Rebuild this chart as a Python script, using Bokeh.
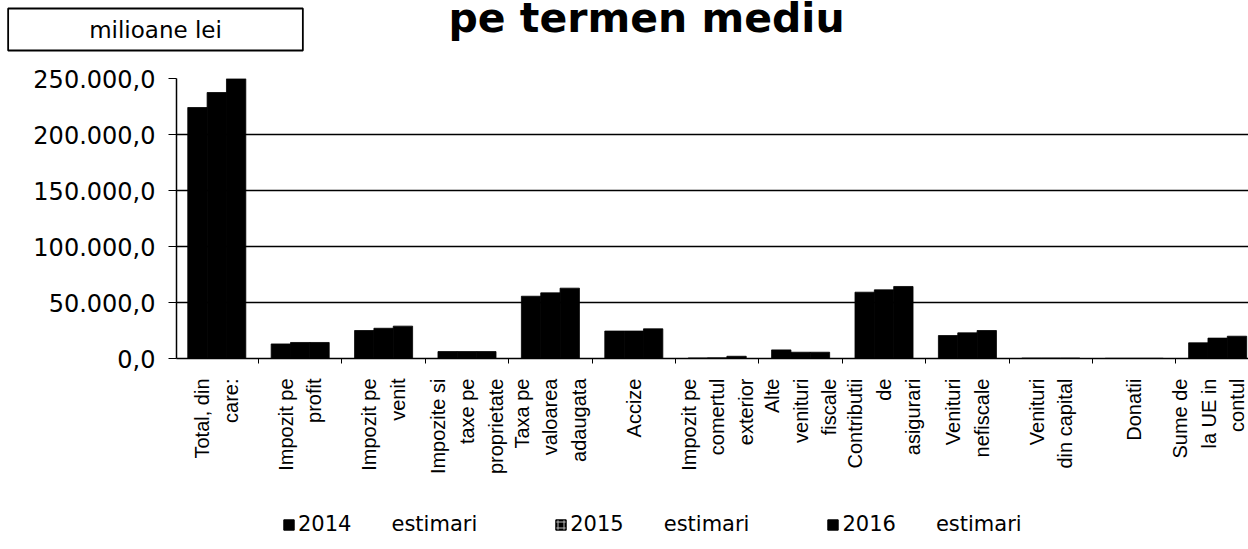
import math
from bokeh.plotting import figure
from bokeh.layouts import column
from bokeh.models import Range1d, FixedTicker, Label, Legend, LegendItem, ColumnDataSource
from bokeh.transform import dodge
from bokeh.embed import file_html
from bokeh.resources import INLINE

# ---------------- data ----------------
categories = [
    "Total, din\ncare:",
    "Impozit pe\nprofit",
    "Impozit pe\nvenit",
    "Impozite si\ntaxe pe\nproprietate",
    "Taxa pe\nvaloarea\nadaugata",
    "Accize",
    "Impozit pe\ncomertul\nexterior",
    "Alte\nvenituri\nfiscale",
    "Contributii\nde\nasigurari",
    "Venituri\nnefiscale",
    "Venituri\ndin capital",
    "Donatii",
    "Sume de\nla UE in\ncontul",
]
years = ["2014", "2015", "2016"]
v2014 = [224100, 13000, 25000, 6200, 55600, 24500, 500, 7700, 59200, 20500, 400, 200, 14000]
v2015 = [237500, 14300, 27000, 6200, 58600, 24500, 600, 5600, 61300, 22900, 400, 200, 18200]
v2016 = [249800, 14300, 28900, 6200, 62800, 26500, 2000, 5600, 64300, 25000, 400, 200, 19900]
y_ticks = [0, 50000, 100000, 150000, 200000, 250000]
legend_suffix = "estimari"
unit_label = "milioane lei"
title_text = "pe termen mediu"

W = 1248


def ro_fmt(v):
    s = f"{v:,.1f}"
    return s.replace(",", "X").replace(".", ",").replace("X", ".")


# ---------------- header strip (title + unit box) ----------------
TOP_H = 62
p_top = figure(width=W, height=TOP_H, output_backend="svg", toolbar_location=None,
               x_axis_type=None, y_axis_type=None, min_border=0,
               x_range=Range1d(0, 1), y_range=Range1d(0, 1))
p_top.frame_align = False
p_top.outline_line_color = None
p_top.grid.visible = False
p_top.add_layout(Label(x=155, y=TOP_H - 29, x_units="screen", y_units="screen",
                       text=unit_label, text_align="center", text_baseline="middle",
                       text_font="DejaVu Sans", text_font_size="23px", text_color="black",
                       border_line_color="black", border_line_width=1.8,
                       background_fill_color="white",
                       padding=dict(left=81, right=81, top=8, bottom=8)))
p_top.add_layout(Label(x=646, y=TOP_H - 17, x_units="screen", y_units="screen",
                       text=title_text, text_align="center", text_baseline="middle",
                       text_font="DejaVu Sans", text_font_style="bold",
                       text_font_size="41px", text_color="black"))

# ---------------- main chart ----------------
MAIN_H = 428
xs = list(range(len(categories)))
src = ColumnDataSource(dict(x=xs, v2014=v2014, v2015=v2015, v2016=v2016))

p = figure(width=W, height=MAIN_H, output_backend="svg", toolbar_location=None,
           x_range=Range1d(-0.483, 12.37), y_range=Range1d(0, 250000),
           min_border_left=176, min_border_top=16, min_border_right=0,
           min_border_bottom=132)
p.frame_align = False
p.outline_line_color = None
p.background_fill_color = "white"
p.border_fill_color = "white"

bw = 0.232
for off, col in zip([-bw, 0, bw], ["v2014", "v2015", "v2016"]):
    p.vbar(x=dodge("x", off, range=p.x_range), top=col, width=bw, source=src,
           fill_color="black", line_color="black", line_width=0.8)

xa = p.xaxis[0]
xa.ticker = FixedTicker(ticks=xs, minor_ticks=[i + 0.5 for i in xs])
xa.major_label_overrides = {i: lab for i, lab in enumerate(categories)}
xa.major_label_orientation = math.pi / 2
xa.major_tick_out = 0
xa.major_tick_in = 0
xa.minor_tick_out = 5
xa.minor_tick_in = 0
xa.minor_tick_line_color = "black"
xa.axis_line_color = "black"
xa.axis_line_width = 1.5
xa.major_label_text_font = "Liberation Sans"
xa.major_label_text_font_size = "20px"
xa.major_label_text_color = "black"
xa.major_label_text_line_height = 1.3
xa.major_label_standoff = 15

ya = p.yaxis[0]
ya.ticker = FixedTicker(ticks=y_ticks, minor_ticks=[])
ya.major_label_overrides = {t: ro_fmt(t) for t in y_ticks}
ya.major_tick_out = 8
ya.major_tick_in = 0
ya.major_tick_line_color = "black"
ya.axis_line_color = "black"
ya.axis_line_width = 1.5
ya.major_label_standoff = 13
ya.major_label_text_font = "DejaVu Sans"
ya.major_label_text_font_size = "24px"
ya.major_label_text_color = "black"

p.xgrid.visible = False
p.ygrid.ticker = FixedTicker(ticks=y_ticks, minor_ticks=[])
p.ygrid.grid_line_color = "black"
p.ygrid.grid_line_width = 1.5

# ---------------- legend strip ----------------
LEG_H = 57
p_leg = figure(width=W, height=LEG_H, output_backend="svg", toolbar_location=None,
               x_axis_type=None, y_axis_type=None, min_border=0,
               x_range=Range1d(0, 1), y_range=Range1d(0, 1))
p_leg.frame_align = False
p_leg.outline_line_color = None
p_leg.grid.visible = False
swatches = []
for y in years:
    kw = {}
    if y == "2015":
        kw = dict(hatch_pattern="+", hatch_color="#bbbbbb", hatch_scale=6, hatch_weight=1)
    # swatch renderers only feed the legend; their single bar lies outside the view
    swatches.append(p_leg.vbar(x=[-5], top=[0], width=0.1, fill_color="black",
                               line_color="black", **kw))
gap = "\u00a0" * 6
items = [LegendItem(label=f"{y}{gap}{legend_suffix}", renderers=[r])
         for y, r in zip(years, swatches)]
legend = Legend(items=items, orientation="horizontal", location=(282, 11),
                glyph_width=13, glyph_height=13, label_standoff=3, spacing=77,
                padding=0, margin=0, border_line_color=None,
                background_fill_alpha=0, label_text_font="DejaVu Sans",
                label_text_font_size="21px", label_text_color="black")
p_leg.add_layout(legend)

layout = column(p_top, p, p_leg, spacing=0)
open("out.html", "w").write(file_html(layout, INLINE))
